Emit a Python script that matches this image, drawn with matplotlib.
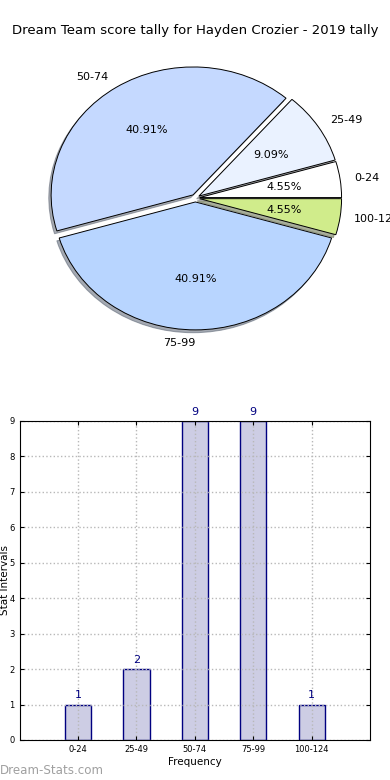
import matplotlib
matplotlib.use('Agg')
import matplotlib.pyplot as plt
import numpy as np

# data
intervals = ['0-24', '25-49', '50-74', '75-99', '100-124']
counts = [1, 2, 9, 9, 1]
pie_colors = ['#ffffff', '#eaf2ff', '#c5d9ff', '#b8d5ff', '#d0ec8b']

fig = plt.figure(figsize=(3.9, 7.8), dpi=100)

# pie on top
ax1 = fig.add_axes([0.046, 0.541, 0.91, 0.41])
wedges, texts, autotexts = ax1.pie(
    counts, labels=intervals, colors=pie_colors, autopct='%.2f%%',
    explode=[0.03] * len(counts),
    shadow={'ox': -0.012, 'oy': -0.016, 'shade': 0.6}, startangle=0,
    wedgeprops={'edgecolor': 'black', 'linewidth': 0.7},
    textprops={'fontsize': 8})
ax1.set_aspect('auto')
ax1.set_xlim(-1.25, 1.25)
ax1.set_ylim(-1.25, 1.25)
# old-style alignment: the bottom label hangs to the left
texts[3].set_ha('right')
fig.text(0.5, 0.961, 'Dream Team score tally for Hayden Crozier - 2019 tally',
         ha='center', va='center', fontsize=9.5)

# bars below
ax2 = fig.add_axes([0.05, 0.0513, 0.899, 0.409])
x = np.arange(len(counts))
ax2.bar(x, counts, width=0.45, color='#cdcde4', edgecolor='#000080', linewidth=1)
for xi, c in zip(x, counts):
    ax2.text(xi, c + 0.12, str(c), ha='center', va='bottom', color='#000080', fontsize=8)
ax2.set_xlim(-1, 5)
ax2.set_ylim(0, 9)
ax2.set_xticks(x)
ax2.set_xticklabels(intervals)
ax2.set_yticks(range(10))
ax2.tick_params(direction='in', top=True, right=True, labelsize=6, length=3)
ax2.grid(True, color='#b8b8b8', linestyle=':', linewidth=1)
ax2.set_axisbelow(False)
for sp in ax2.spines.values():
    sp.set_zorder(3)
ax2.set_xlabel('Frequency', fontsize=7.5, labelpad=2)
ax2.set_ylabel('Stat Intervals', fontsize=7.5)
ax2.yaxis.set_label_coords(-0.028, 0.5)

fig.text(0.0, 0.012, 'Dream-Stats.com', color='#a0a0a0', fontsize=8.6, ha='left', va='center')

fig.savefig('out.png', dpi=100)
